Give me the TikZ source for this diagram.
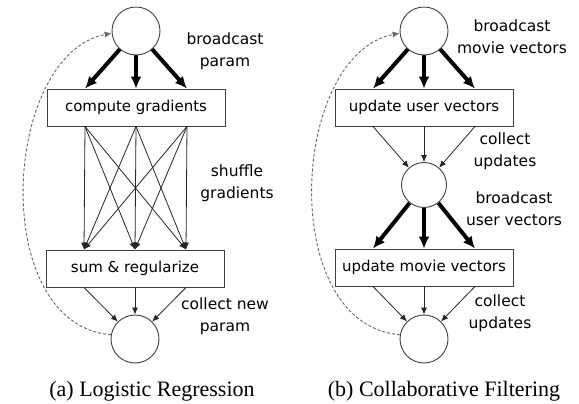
\documentclass[tikz,border=0pt]{standalone}
\usepackage{fontspec}
\setmainfont{Liberation Serif}
\newfontfamily\lblfont{DejaVu Sans}
\usetikzlibrary{arrows.meta}
\tikzset{
  every picture/.style={line width=0.9pt},
  sph/.style={draw=black!75,circle,minimum size=48pt,inner sep=0},
  blk/.style={draw=black!75,rectangle,minimum height=37pt,minimum width=178pt,inner sep=0,font=\lblfont\fontsize{15}{18}\selectfont},
  lbl/.style={font=\lblfont\fontsize{15.5}{22}\selectfont,align=center,inner sep=0},
  capt/.style={font=\fontsize{22}{26}\selectfont,inner sep=0},
  bcast/.style={-{Latex[length=12pt,width=11pt]},line width=4pt},
  flow/.style={-{Latex[length=7pt,width=6pt]},line width=0.8pt,black!85},
  iter/.style={-{Latex[length=7pt,width=6pt]},dash pattern=on 3pt off 2pt,black!60,line width=0.9pt},
}

\begin{document}
\begin{tikzpicture}[x=1pt,y=-1pt]
\useasboundingbox (0,0) rectangle (579,404);
% (a) logistic regression
\node[sph] (A0) at (136,31) {};
\node[blk] (grad) at (136,107.5) {compute gradients};
\node[blk] (sum) at (135,268.5) {sum \& regularize};
\node[sph] (A1) at (135,339) {};
\foreach \dx in {-51,0,51}{
  \draw[bcast] (A0) -- ([xshift=\dx pt]grad.north);
  \draw[flow] ([xshift=\dx pt]sum.south) -- (A1);
  \foreach \ex in {-51,0,51}
    \draw[flow] ([xshift=\dx pt]grad.south) -- ([xshift=\ex pt]sum.north);
}
\draw[iter] (A1.170) .. controls +(-123,-10) and +(-110,22) .. (A0.185);
\node[lbl] (la1) at (225,51) {broadcast\\param};
\node[lbl] (la2) at (237,183) {shuffle\\gradients};
\node[lbl] (la3) at (225,316) {collect new\\param};
\node[capt] (capa) at (152,391) {(a) Logistic Regression};
% (b) collaborative filtering
\node[sph] (B0) at (424,31) {};
\node[blk] (user) at (424,107.5) {update user vectors};
\node[sph,minimum size=45pt] (B1) at (424,185) {};
\node[blk] (movie) at (424,267.5) {update movie vectors};
\node[sph] (B2) at (424,339) {};
\foreach \dx in {-51,0,51}{
  \draw[bcast] (B0) -- ([xshift=\dx pt]user.north);
  \draw[flow] ([xshift=\dx pt]user.south) -- (B1);
  \draw[bcast] (B1) -- ([xshift=\dx pt]movie.north);
  \draw[flow] ([xshift=\dx pt]movie.south) -- (B2);
}
\draw[iter] (B2.170) .. controls +(-123,-10) and +(-110,22) .. (B0.185);
\node[lbl] (lb1) at (512,37) {broadcast\\movie vectors};
\node[lbl] (lb2) at (505,151) {collect\\updates};
\node[lbl] (lb3) at (514,209) {broadcast\\user vectors};
\node[lbl] (lb4) at (500,313) {collect\\updates};
\node[capt] (capb) at (444,391) {(b) Collaborative Filtering};
\end{tikzpicture}
\end{document}
